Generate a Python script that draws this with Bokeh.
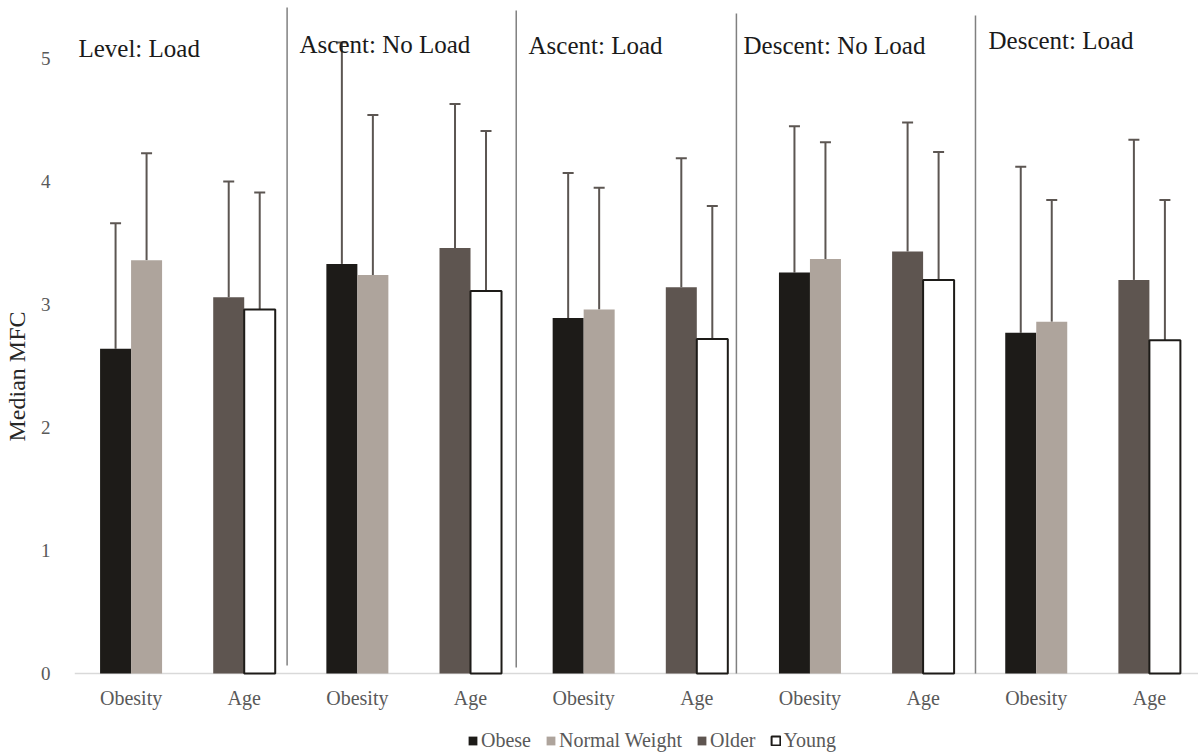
from bokeh.plotting import figure
from bokeh.models import (Range1d, FixedTicker, ColumnDataSource, Whisker, TeeHead,
                          Legend, LegendItem, Label)
from bokeh.core.properties import value
from bokeh.embed import file_html
from bokeh.resources import INLINE

# Walking conditions (one panel each) and the two grouping comparisons inside a panel
panels = ["Level: Load", "Ascent: No Load", "Ascent: Load", "Descent: No Load", "Descent: Load"]
groups = ["Obesity", "Age"]
series = ["Obese", "Normal Weight", "Older", "Young"]

# Median MFC per condition and its error (upper whisker length)
obese = [2.64, 3.33, 2.89, 3.26, 2.77]
obese_err = [1.02, 1.80, 1.18, 1.19, 1.35]
normal = [3.36, 3.24, 2.96, 3.37, 2.86]
normal_err = [0.87, 1.30, 0.99, 0.95, 0.99]
older = [3.06, 3.46, 3.14, 3.43, 3.20]
older_err = [0.94, 1.17, 1.05, 1.05, 1.14]
young = [2.96, 3.11, 2.72, 3.20, 2.71]
young_err = [0.95, 1.30, 1.08, 1.04, 1.14]

y_ticks = [0, 1, 2, 3, 4, 5]

FONT = "Liberation Serif"
GREY_TXT = "#595959"
ERR_COL = "#5c5652"
X_END = 9.934

# The frame runs to the bottom edge; category labels and legend sit below y = 0
p = figure(width=1198, height=752, output_backend="svg", toolbar_location=None,
           x_range=Range1d(0, X_END), y_range=Range1d(-0.642, 5.4715),
           min_border_left=74, min_border_right=0, min_border_top=0, min_border_bottom=0)
p.outline_line_color = None
p.xgrid.visible = False
p.ygrid.visible = False
p.xaxis.visible = False
p.background_fill_color = "white"
p.border_fill_color = "white"

p.yaxis.ticker = FixedTicker(ticks=y_ticks)
p.yaxis.axis_line_color = None
p.yaxis.major_tick_line_color = None
p.yaxis.minor_tick_line_color = None
p.yaxis.major_label_text_font = FONT
p.yaxis.major_label_text_font_size = "19px"
p.yaxis.major_label_text_color = GREY_TXT
p.yaxis.major_label_standoff = 18
p.yaxis.axis_label = "Median MFC"
p.yaxis.axis_label_text_font = FONT
p.yaxis.axis_label_text_font_size = "24px"
p.yaxis.axis_label_text_font_style = "normal"
p.yaxis.axis_label_text_color = "#262626"
p.yaxis.axis_label_standoff = 8

# Category baseline and labels (Obesity / Age repeated for every panel)
p.segment(x0=[0], x1=[X_END], y0=[0], y1=[0], line_color="#d9d9d9", line_width=1.5)
cat_pos = [k + 0.5 for k in range(2 * len(panels))]
cat_lab = groups * len(panels)
p.text(x=cat_pos, y=[-0.195] * len(cat_pos), text=cat_lab, text_font=value(FONT),
       text_font_size="20px", text_color=GREY_TXT, text_align="center",
       text_baseline="middle")

BW = 0.274
styles = {
    "Obese": dict(fill_color="#1d1b18", line_color="#1d1b18", line_width=0),
    "Normal Weight": dict(fill_color="#aea49c", line_color="#aea49c", line_width=0),
    "Older": dict(fill_color="#5e5550", line_color="#5e5550", line_width=0),
    "Young": dict(fill_color="white", line_color="#1d1b18", line_width=2),
}
vals = {"Obese": (obese, obese_err, 0, -1), "Normal Weight": (normal, normal_err, 0, 1),
        "Older": (older, older_err, 1, -1), "Young": (young, young_err, 1, 1)}

items = []
for name in series:
    v, e, g, side = vals[name]
    xs = [2 * i + g + 0.5 + side * BW / 2 for i in range(len(panels))]
    src = ColumnDataSource(dict(x=xs, top=v, upper=[a + b for a, b in zip(v, e)]))
    r = p.vbar(x="x", top="top", bottom=0, width=BW, source=src, **styles[name])
    w = Whisker(base="x", lower="top", upper="upper", source=src, dimension="height",
                line_color=ERR_COL, line_width=2,
                upper_head=TeeHead(size=11, line_color=ERR_COL, line_width=2),
                lower_head=None)
    p.add_layout(w)
    items.append(LegendItem(label=name, renderers=[r]))

# Panel separators
sep_x = [1.879, 3.904, 5.850, 7.963]
sep_top = [5.415, 5.39, 5.366, 5.35]
sep_bot = [0.065, 0.049, 0.0, 0.0]
p.segment(x0=sep_x, x1=sep_x, y0=sep_bot, y1=sep_top, line_color="#808080", line_width=1.5)

# Panel titles
title_x = [0.035, 1.989, 4.013, 5.913, 8.078]
title_y = [5.081, 5.114, 5.106, 5.106, 5.146]
for tx, ty, t in zip(title_x, title_y, panels):
    p.add_layout(Label(x=tx, y=ty, text=t, text_font=FONT, text_font_size="25px",
                       text_color="#1a1a1a", text_baseline="alphabetic", text_align="left"))

legend = Legend(items=items, orientation="horizontal", location=(393, 0),
                glyph_width=11, glyph_height=11, label_standoff=3, spacing=14,
                padding=0, margin=0, border_line_color=None, background_fill_alpha=0,
                label_text_font="Times New Roman", label_text_font_size="20px",
                label_text_color=GREY_TXT)
p.add_layout(legend, "center")

open("out.html", "w").write(file_html(p, INLINE))
